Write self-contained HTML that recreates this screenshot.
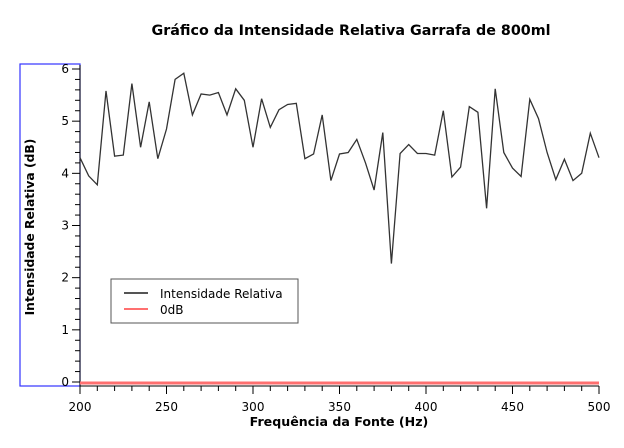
<!DOCTYPE html>
<html><head><meta charset="utf-8"><style>
body{margin:0;background:#fff;}
svg{display:block;font-family:"DejaVu Sans","Liberation Sans",sans-serif;}
</style></head><body>
<svg id="c" width="624" height="448">
<text x="351" y="35" text-anchor="middle" font-size="14.3" font-weight="bold">Gráfico da Intensidade Relativa Garrafa de 800ml</text>
<rect x="20" y="64" width="60" height="322" fill="none" stroke="#3333ff" stroke-width="1.2"/>
<text transform="translate(34,227) rotate(-90)" text-anchor="middle" font-size="12.3" font-weight="bold">Intensidade Relativa (dB)</text>
<text x="339" y="426" text-anchor="middle" font-size="12.6" font-weight="bold">Frequência da Fonte (Hz)</text>
<g id="axes"></g>
<g id="series"></g>
<g>
<rect x="111" y="279" width="187" height="44" fill="#fff" stroke="#555" stroke-width="1"/>
<line x1="124" y1="293" x2="148" y2="293" stroke="#555" stroke-width="2"/>
<text x="160" y="298" font-size="12">Intensidade Relativa</text>
<line x1="124" y1="309" x2="148" y2="309" stroke="#ff7070" stroke-width="2"/>
<text x="160" y="314" font-size="12">0dB</text>
</g>
</svg>
<script>
const freqs=[200,205,210,215,220,225,230,235,240,245,250,255,260,265,270,275,280,285,290,295,300,305,310,315,320,325,330,335,340,345,350,355,360,365,370,375,380,385,390,395,400,405,410,415,420,425,430,435,440,445,450,455,460,465,470,475,480,485,490,495,500];
const intensity=[4.3,3.95,3.78,5.58,4.33,4.35,5.72,4.5,5.37,4.28,4.85,5.8,5.92,5.12,5.52,5.5,5.55,5.12,5.62,5.4,4.5,5.43,4.88,5.22,5.32,5.34,4.28,4.37,5.12,3.86,4.37,4.4,4.65,4.2,3.68,4.78,2.27,4.38,4.55,4.38,4.38,4.35,5.2,3.93,4.12,5.28,5.17,3.33,5.62,4.4,4.1,3.94,5.42,5.05,4.4,3.88,4.27,3.86,4.0,4.77,4.3];
const refLine=[0,0];
const xTicks=[200,250,300,350,400,450,500];
const yTicks=[0,1,2,3,4,5,6];
const NS="http://www.w3.org/2000/svg";
const X0=80,X1=599,Y0=382,Y6=69;
function sx(v){return X0+(v-200)/300*(X1-X0);}
function sy(v){return Y0-v/6*(Y0-Y6);}
function mk(t,a,p){const e=document.createElementNS(NS,t);for(const k in a)e.setAttribute(k,a[k]);p.appendChild(e);return e;}
const ax=document.getElementById('axes'),se=document.getElementById('series');
let l=mk('line',{x1:X0,y1:Y6-4,x2:X0,y2:Y0+4,stroke:'#000'},ax);


l=mk('line',{x1:X0,y1:Y0+4,x2:X1,y2:Y0+4,stroke:'#000'},ax);


for(let v=200;v<=500;v+=10){const x=sx(v);const major=v%50===0;mk('line',{x1:x,y1:Y0+4,x2:x,y2:Y0+(major?12:9),stroke:'#000'},ax);}
xTicks.forEach(v=>{const t=mk('text',{x:sx(v),y:Y0+29,'text-anchor':'middle','font-size':'12'},ax);t.textContent=v;

});
for(let i=0;i<=30;i++){const v=i*0.2;const y=sy(v);const major=i%5===0;mk('line',{x1:X0-(major?8:5),y1:y,x2:X0,y2:y,stroke:'#000'},ax);}
yTicks.forEach(v=>{const t=mk('text',{x:X0-11,y:sy(v)+4,'text-anchor':'end','font-size':'12'},ax);t.textContent=v;

});
let r=mk('line',{x1:sx(200),y1:sy(refLine[0])+1,x2:sx(500),y2:sy(refLine[1])+1,stroke:'#ff7070','stroke-width':3},se);


const pts=freqs.map((f,i)=>sx(f).toFixed(1)+','+sy(intensity[i]).toFixed(1)).join(' ');
let p=mk('polyline',{points:pts,fill:'none',stroke:'#333','stroke-width':1.3},se);


</script>
</body></html>
